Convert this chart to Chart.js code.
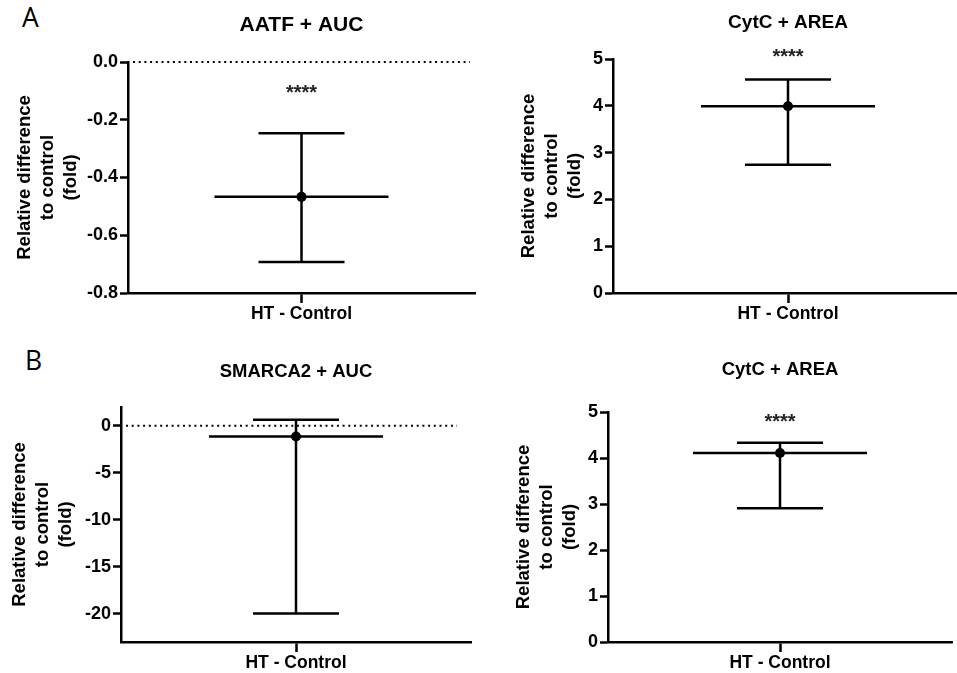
<!DOCTYPE html>
<html>
<head>
<meta charset="utf-8">
<title>Relative difference to control</title>
<script src="https://cdn.jsdelivr.net/npm/chart.js@4.4.0/dist/chart.umd.min.js"></script>
<style>
    html, body { margin: 0; padding: 0; background: #fff; overflow: hidden; }
    body { width: 957px; height: 673px; position: relative; }
    canvas { position: absolute; }
    .letter {
        position: absolute;
        font-family: 'Open Sans', 'Noto Sans', sans-serif;
        font-size: 26.5px;
        line-height: 1;
        color: #000;
    }
</style>
</head>
<body>
<div class="letter" style="left:22px; top:4px;">A</div>
<div class="letter" style="left:25px; top:347px;">B</div>
<canvas id="c0"></canvas>
<canvas id="c1"></canvas>
<canvas id="c2"></canvas>
<canvas id="c3"></canvas>
<script>
// ---------------------------------------------------------------------------
// Data
// ---------------------------------------------------------------------------
const categories  = ['HT - Control'];
const panelTitles = ['AATF + AUC', 'CytC + AREA', 'SMARCA2 + AUC', 'CytC + AREA'];
const yAxisTitle  = ['Relative difference', 'to control', '(fold)'];

const meanDiff = [-0.467, 3.99, -1.14, 4.11];
const ciUpper  = [-0.247, 4.56, 0.64, 4.33];
const ciLower  = [-0.693, 2.74, -19.97, 2.91];

const yMins  = [-0.8, 0, -23, 0];
const yMaxs  = [0, 5, 2, 5];
const yTicks = [
    [-0.8, -0.6, -0.4, -0.2, 0],
    [0, 1, 2, 3, 4, 5],
    [-20, -15, -10, -5, 0],
    [0, 1, 2, 3, 4, 5],
];
const tickDecimals = [1, 0, 0, 0];

const sigLabels = ['****', '****', '', '****'];
const sigLabelY = [-0.087, 5.15, null, 4.91];
const zeroLine  = [true, false, true, false];

// ---------------------------------------------------------------------------
// Layout (pixels in the page)
// ---------------------------------------------------------------------------
const FONT = "'Liberation Sans', Arial, sans-serif";
const panels = [
    { left: 0,   top: 0,   width: 480, height: 340, area: [128, 62, 475, 293], titleY: 25,  titleSize: 21,   yTitleX: 25,  dotEnd: 5 },
    { left: 480, top: 0,   width: 490, height: 340, area: [613, 59, 963, 293], titleY: 23,  titleSize: 19,   yTitleX: 529, dotEnd: 5 },
    { left: 0,   top: 340, width: 480, height: 333, area: [121, 407, 471, 642], titleY: 372, titleSize: 18.5, yTitleX: 20,  dotEnd: 14 },
    { left: 480, top: 340, width: 490, height: 333, area: [608, 412, 952, 642], titleY: 370, titleSize: 18.5, yTitleX: 524, dotEnd: 5 },
];

// Mean line, CI whiskers, dotted zero line and significance stars
const errorBarPlugin = {
    id: 'errorBars',
    beforeDatasetsDraw(chart, args, opts) {
        const { ctx, chartArea } = chart;
        const x = chart.scales.x, y = chart.scales.y;
        ctx.save();
        ctx.strokeStyle = '#000';

        if (opts.zeroLine) {
            const y0 = y.getPixelForValue(0);
            ctx.lineWidth = 2;
            ctx.setLineDash([2, 3.7]);
            ctx.beginPath();
            ctx.moveTo(chartArea.left + 5, y0);
            ctx.lineTo(chartArea.right - opts.dotEnd, y0);
            ctx.stroke();
            ctx.setLineDash([]);
        }

        ctx.lineWidth = 2.5;
        const cx = x.getPixelForValue(0);
        const yM = y.getPixelForValue(opts.mean);
        const yHi = y.getPixelForValue(opts.upper);
        const yLo = y.getPixelForValue(opts.lower);
        ctx.beginPath();
        ctx.moveTo(cx - 87, yM);  ctx.lineTo(cx + 87, yM);
        ctx.moveTo(cx, yHi);      ctx.lineTo(cx, yLo);
        ctx.moveTo(cx - 43, yHi); ctx.lineTo(cx + 43, yHi);
        ctx.moveTo(cx - 43, yLo); ctx.lineTo(cx + 43, yLo);
        ctx.stroke();
        ctx.restore();
    },
    afterDatasetsDraw(chart, args, opts) {
        if (!opts.sig) return;
        const { ctx } = chart;
        const cx = chart.scales.x.getPixelForValue(0);
        const sy = chart.scales.y.getPixelForValue(opts.sigY);
        ctx.save();
        ctx.fillStyle = '#222';
        ctx.font = `bold 20px ${FONT}`;
        ctx.textAlign = 'center';
        ctx.textBaseline = 'alphabetic';
        ctx.fillText(opts.sig, cx, sy + 11.5);
        ctx.restore();
    },
};

function buildPanel(i) {
    const p = panels[i];
    const [aLeft, aTop, aRight, aBottom] = p.area;
    const canvas = document.getElementById('c' + i);
    canvas.width = p.width;
    canvas.height = p.height;
    canvas.style.left = p.left + 'px';
    canvas.style.top = p.top + 'px';
    canvas.style.width = p.width + 'px';
    canvas.style.height = p.height + 'px';

    const titleLH = p.titleSize * 1.2;
    const titlePadTop = p.titleY - p.top - titleLH / 2;
    const titlePadBottom = aTop - p.top - titlePadTop - titleLH;
    const yTitleLH = 23;

    new Chart(canvas.getContext('2d'), {
        type: 'line',
        data: {
            labels: categories,
            datasets: [{
                data: [meanDiff[i]],
                showLine: false,
                pointRadius: 5,
                pointBackgroundColor: '#000',
                pointBorderWidth: 0,
            }],
        },
        options: {
            responsive: false,
            animation: false,
            events: [],
            layout: { padding: { left: 0, top: 0, bottom: 0, right: p.left + p.width - aRight } },
            plugins: {
                legend: { display: false },
                tooltip: { enabled: false },
                title: {
                    display: true,
                    text: panelTitles[i],
                    fullSize: false,
                    color: '#000',
                    font: { family: FONT, size: p.titleSize, weight: 'bold', lineHeight: 1.2 },
                    padding: { top: titlePadTop, bottom: titlePadBottom },
                },
                errorBars: {
                    mean: meanDiff[i],
                    upper: ciUpper[i],
                    lower: ciLower[i],
                    zeroLine: zeroLine[i],
                    dotEnd: p.dotEnd,
                    sig: sigLabels[i],
                    sigY: sigLabelY[i],
                },
            },
            scales: {
                x: {
                    type: 'category',
                    offset: true,
                    afterFit: s => { s.height = p.top + p.height - aBottom; },
                    grid: {
                        display: true, offset: false, drawOnChartArea: false,
                        drawTicks: true, tickLength: 10, tickWidth: 2.5, tickColor: '#000',
                    },
                    border: { display: true, width: 2.5, color: '#000' },
                    ticks: {
                        color: '#000', padding: 1,
                        font: { family: FONT, size: 17.5, weight: 'bold' },
                    },
                },
                y: {
                    type: 'linear',
                    min: yMins[i],
                    max: yMaxs[i],
                    afterBuildTicks: s => { s.ticks = yTicks[i].map(v => ({ value: v })); },
                    afterFit: s => { s.width = aLeft - p.left; },
                    grid: {
                        display: true, drawOnChartArea: false,
                        drawTicks: true, tickLength: 8, tickWidth: 2.5, tickColor: '#000',
                    },
                    border: { display: true, width: 2.5, color: '#000' },
                    ticks: {
                        color: '#000', padding: 2,
                        font: { family: FONT, size: 18, weight: 'bold' },
                        callback: v => Number(v).toFixed(tickDecimals[i]),
                    },
                    title: {
                        display: true,
                        text: yAxisTitle,
                        color: '#000',
                        font: { family: FONT, size: 18.5, weight: 'bold', lineHeight: yTitleLH / 18.5 },
                        padding: { top: p.yTitleX - p.left - yTitleLH / 2, bottom: 0 },
                    },
                },
            },
        },
        plugins: [errorBarPlugin],
    });
}

panels.forEach((_, i) => buildPanel(i));
</script>
</body>
</html>
